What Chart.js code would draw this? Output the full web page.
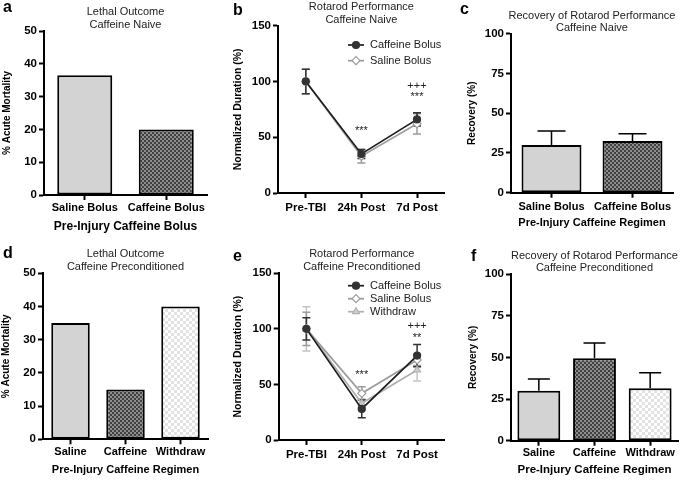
<!DOCTYPE html>
<html>
<head>
<meta charset="utf-8">
<script src="https://cdn.jsdelivr.net/npm/chart.js@4.4.1/dist/chart.umd.min.js"></script>
<style>
  html, body { margin: 0; padding: 0; background: #fff; }
  #fig { position: relative; width: 680px; height: 480px; }
  #fig canvas { position: absolute; }
</style>
</head>
<body>
<div id="fig">
  <canvas id="pa" width="220" height="240" style="left:0;top:0"></canvas>
  <canvas id="pb" width="230" height="240" style="left:220px;top:0"></canvas>
  <canvas id="pc" width="230" height="240" style="left:450px;top:0"></canvas>
  <canvas id="pd" width="220" height="240" style="left:0;top:240px"></canvas>
  <canvas id="pe" width="230" height="240" style="left:220px;top:240px"></canvas>
  <canvas id="pf" width="230" height="240" style="left:450px;top:240px"></canvas>
</div>
<script>
// ---- data ----
const naiveGroups = ['Saline Bolus', 'Caffeine Bolus'];
const naiveMortality = [36.5, 20];

const timepoints = ['Pre-TBI', '24h Post', '7d Post'];
const naiveCaffeineDur = [100, 35, 66];
const naiveCaffeineErr = [11, 4, 6];
const naiveSalineDur = [100, 33, 62];
const naiveSalineErr = [11, 6, 9];
const naiveNotes = [['24h Post', 56, '***'], ['7d Post', 96, '+++'], ['7d Post', 86, '***']];

const naiveRecovery = [30, 32.5];
const naiveRecoveryErr = [8.8, 4.5];

const precondGroups = ['Saline', 'Caffeine', 'Withdraw'];
const precondMortality = [35, 15, 40];

const precondCaffeineDur = [100, 28, 76];
const precondCaffeineErr = [10, 8, 10];
const precondSalineDur = [100, 42, 72];
const precondSalineErr = [15, 6, 5];
const precondWithdrawDur = [100, 33, 63];
const precondWithdrawErr = [20, 4, 10];
const precondNotes = [['24h Post', 58.5, '***'], ['7d Post', 102.5, '+++'], ['7d Post', 92, '**']];

const precondRecovery = [30, 49.4, 31.4];
const precondRecoveryErr = [7, 9.2, 9.4];

const FONT = '"Liberation Sans", Arial, Helvetica, sans-serif';
Chart.defaults.font.family = FONT;
Chart.defaults.color = '#000';

// fill patterns
function checker(size, c1, c2) {
  const p = document.createElement('canvas');
  p.width = p.height = size * 2;
  const g = p.getContext('2d');
  g.fillStyle = c1; g.fillRect(0, 0, size * 2, size * 2);
  g.fillStyle = c2; g.fillRect(0, 0, size, size); g.fillRect(size, size, size, size);
  return g.createPattern(p, 'repeat');
}
const salineFill = '#d3d3d3';
const caffeineFill = checker(2, '#8e8e8e', '#404040');
const withdrawFill = checker(3, '#ffffff', '#e2e2e2');

// error bars, drawn from dataset.errs
const errorBars = {
  id: 'errorBars',
  draw(chart) {
    const ctx = chart.ctx, ys = chart.scales.y;
    for (let d = chart.data.datasets.length - 1; d >= 0; d--) {
      const ds = chart.data.datasets[d];
      if (!ds.errs) continue;
      const meta = chart.getDatasetMeta(d);
      ctx.save();
      ctx.strokeStyle = ds.errColor || '#000';
      ctx.lineWidth = ds.errWidth || 1.5;
      meta.data.forEach((el, i) => {
        const v = ds.data[i], e = ds.errs[i];
        const top = ys.getPixelForValue(v + e);
        const bot = ys.getPixelForValue(ds.errUpOnly ? v : v - e);
        const x = el.x, w = ds.capHalf;
        ctx.beginPath();
        ctx.moveTo(x, top); ctx.lineTo(x, bot);
        ctx.moveTo(x - w, top); ctx.lineTo(x + w, top);
        if (!ds.errUpOnly) { ctx.moveTo(x - w, bot); ctx.lineTo(x + w, bot); }
        ctx.stroke();
      });
      ctx.restore();
    }
  },
  beforeDatasetsDraw(chart) { if (chart.config.type === 'line') this.draw(chart); },
  afterDatasetsDraw(chart) { if (chart.config.type === 'bar') this.draw(chart); }
};

// panel letter, two-line title, legend, significance marks
const panelDeco = {
  id: 'panelDeco',
  afterDraw(chart, args, o) {
    const ctx = chart.ctx, ca = chart.chartArea;
    ctx.save();
    ctx.fillStyle = '#000';
    ctx.font = 'bold 16px ' + FONT;
    ctx.textAlign = 'left';
    ctx.textBaseline = 'alphabetic';
    ctx.fillText(o.letter, o.letterX, o.letterY);

    ctx.font = '11px ' + FONT;
    ctx.fillStyle = '#222';
    ctx.textAlign = 'center';
    ctx.textBaseline = 'middle';
    const cx = (ca.left + ca.right) / 2;
    o.title.forEach((t, i) => ctx.fillText(t, cx, o.titleY + i * 12.7));

    if (o.legend) {
      ctx.font = '11px ' + FONT;
      ctx.textAlign = 'left';
      chart.data.datasets.forEach((ds, i) => {
        const y = o.legendY + i * o.legendGap;
        ctx.strokeStyle = ds.borderColor;
        ctx.lineWidth = ds.borderWidth;
        ctx.beginPath(); ctx.moveTo(o.legendX, y); ctx.lineTo(o.legendX + 16, y); ctx.stroke();
        ctx.fillStyle = ds.pointBackgroundColor;
        ctx.strokeStyle = ds.pointBorderColor;
        ctx.lineWidth = ds.pointBorderWidth;
        Chart.helpers.drawPoint(ctx, { pointStyle: ds.pointStyle, radius: ds.pointRadius, borderWidth: ds.pointBorderWidth, rotation: 0 }, o.legendX + 8, y);
        ctx.fillStyle = '#222';
        ctx.fillText(ds.label, o.legendX + 22, y);
      });
    }

    if (o.notes) {
      ctx.font = '11px ' + FONT;
      ctx.fillStyle = '#222';
      ctx.textAlign = 'center';
      ctx.textBaseline = 'middle';
      const xs = chart.scales.x, ys = chart.scales.y;
      o.notes.forEach(([cat, v, txt]) => {
        ctx.fillText(txt, xs.getPixelForValue(chart.data.labels.indexOf(cat)), ys.getPixelForValue(v));
      });
    }
    ctx.restore();
  }
};

function yAxis(p) {
  return {
    min: 0, max: p.max,
    ticks: { stepSize: p.step, font: { size: 11.5, weight: 'bold' }, color: '#000', padding: 2 },
    grid: { drawOnChartArea: false, tickLength: 5, tickWidth: 2, tickColor: '#000' },
    border: { color: '#000', width: 2 },
    title: { display: true, text: p.yTitle, color: '#000', font: { size: p.yTitleSize, weight: 'bold' }, padding: { top: p.yTitlePad, bottom: 0 } },
    afterFit: s => { s.width = p.left; }
  };
}

function xAxis(p) {
  return {
    offset: true,
    ticks: { font: { size: p.xTickSize, weight: 'bold' }, color: '#000', padding: p.xTickPad, maxRotation: 0, autoSkip: false },
    grid: { offset: false, drawOnChartArea: false, tickLength: 5, tickWidth: 2, tickColor: '#000' },
    border: { color: '#000', width: 2 },
    title: { display: !!p.xTitle, text: p.xTitle || '', color: '#000', font: { size: p.xTitleSize || 11, weight: 'bold' }, padding: { top: 0, bottom: p.xTitlePad || 0 } },
    afterFit: s => { s.height = 240 - p.bottom; }
  };
}

function baseOptions(p) {
  return {
    responsive: false,
    animation: false,
    layout: { padding: { top: p.top, right: p.padRight, left: 0, bottom: 0 } },
    scales: { x: xAxis(p), y: yAxis(p) },
    plugins: {
      legend: { display: false },
      tooltip: { enabled: false },
      panelDeco: p.deco
    }
  };
}

function barPanel(id, p) {
  return new Chart(document.getElementById(id), {
    type: 'bar',
    data: {
      labels: p.labels,
      datasets: [{
        data: p.values,
        errs: p.errs,
        errUpOnly: true,
        capHalf: p.capHalf,
        errColor: '#000',
        backgroundColor: p.fills,
        borderColor: '#000',
        borderWidth: 2,
        borderSkipped: false,
        barPercentage: p.barPct,
        categoryPercentage: 1
      }]
    },
    options: baseOptions(p),
    plugins: [errorBars, panelDeco]
  });
}

const seriesStyle = {
  'Caffeine Bolus': { borderColor: '#1e1e1e', pointStyle: 'circle', pointRadius: 3.5, pointBackgroundColor: '#333', pointBorderColor: '#333', errColor: '#333' },
  'Saline Bolus': { borderColor: '#9c9c9c', pointStyle: 'rectRot', pointRadius: 4, pointBackgroundColor: '#fff', pointBorderColor: '#9c9c9c', errColor: '#9c9c9c' },
  'Withdraw': { borderColor: '#b0b0b0', pointStyle: 'triangle', pointRadius: 4, pointBackgroundColor: '#cfcfcf', pointBorderColor: '#b0b0b0', errColor: '#c4c4c4' }
};

function linePanel(id, p) {
  const datasets = p.series.map(([label, vals, errs]) => Object.assign({
    label: label,
    data: vals,
    errs: errs,
    capHalf: 4,
    errWidth: 1.5,
    borderWidth: 1.7,
    pointBorderWidth: 1.2,
    tension: 0,
    fill: false
  }, seriesStyle[label]));
  return new Chart(document.getElementById(id), {
    type: 'line',
    data: { labels: timepoints, datasets: datasets },
    options: baseOptions(p),
    plugins: [errorBars, panelDeco]
  });
}

barPanel('pa', {
  labels: naiveGroups, values: naiveMortality, errs: null,
  fills: [salineFill, caffeineFill], barPct: 0.675, capHalf: 0,
  max: 50, step: 10, yTitle: '% Acute Mortality', yTitleSize: 10, yTitlePad: 1.7,
  xTitle: 'Pre-Injury Caffeine Bolus', xTitleSize: 12, xTitlePad: 5.8, xTickSize: 11, xTickPad: 1.4,
  top: 31, left: 44, padRight: 13, bottom: 195,
  deco: { letter: 'a', letterX: 3, letterY: 12, title: ['Lethal Outcome', 'Caffeine Naive'], titleY: 12.3 }
});

linePanel('pb', {
  series: [['Caffeine Bolus', naiveCaffeineDur, naiveCaffeineErr], ['Saline Bolus', naiveSalineDur, naiveSalineErr]],
  max: 150, step: 50, yTitle: 'Normalized Duration (%)', yTitleSize: 10.5, yTitlePad: 12.2,
  xTickSize: 11.5, xTickPad: 3,
  top: 25.7, left: 58, padRight: 3, bottom: 193,
  deco: { letter: 'b', letterX: 13, letterY: 15, title: ['Rotarod Performance', 'Caffeine Naive'], titleY: 7.3,
          legend: true, legendX: 128, legendY: 45, legendGap: 15.7, notes: naiveNotes }
});

barPanel('pc', {
  labels: naiveGroups, values: naiveRecovery, errs: naiveRecoveryErr,
  fills: [salineFill, caffeineFill], barPct: 0.74, capHalf: 14,
  max: 100, step: 25, yTitle: 'Recovery (%)', yTitleSize: 10, yTitlePad: 16.7,
  xTitle: 'Pre-Injury Caffeine Regimen', xTitleSize: 11, xTitlePad: 10.1, xTickSize: 11, xTickPad: 2.4,
  top: 33.7, left: 61, padRight: 7, bottom: 192.7,
  deco: { letter: 'c', letterX: 10, letterY: 13.5, title: ['Recovery of Rotarod Performance', 'Caffeine Naive'], titleY: 15.7 }
});

barPanel('pd', {
  labels: precondGroups, values: precondMortality, errs: null,
  fills: [salineFill, caffeineFill, withdrawFill], barPct: 0.7, capHalf: 0,
  max: 50, step: 10, yTitle: '% Acute Mortality', yTitleSize: 10, yTitlePad: 0.7,
  xTitle: 'Pre-Injury Caffeine Regimen', xTitleSize: 11, xTitlePad: 3.4, xTickSize: 11, xTickPad: 0.8,
  top: 33.3, left: 43, padRight: 12, bottom: 199.3,
  deco: { letter: 'd', letterX: 3, letterY: 18, title: ['Lethal Outcome', 'Caffeine Preconditioned'], titleY: 14 }
});

linePanel('pe', {
  series: [['Caffeine Bolus', precondCaffeineDur, precondCaffeineErr], ['Saline Bolus', precondSalineDur, precondSalineErr], ['Withdraw', precondWithdrawDur, precondWithdrawErr]],
  max: 150, step: 50, yTitle: 'Normalized Duration (%)', yTitleSize: 10.5, yTitlePad: 12.2,
  xTickSize: 11.5, xTickPad: 3.1,
  top: 33.3, left: 58.7, padRight: 3, bottom: 200,
  deco: { letter: 'e', letterX: 13, letterY: 21, title: ['Rotarod Performance', 'Caffeine Preconditioned'], titleY: 14,
          legend: true, legendX: 128, legendY: 45.7, legendGap: 13, notes: precondNotes }
});

barPanel('pf', {
  labels: precondGroups, values: precondRecovery, errs: precondRecoveryErr,
  fills: [salineFill, caffeineFill, withdrawFill], barPct: 0.77, capHalf: 11,
  max: 100, step: 25, yTitle: 'Recovery (%)', yTitleSize: 10, yTitlePad: 17.7,
  xTitle: 'Pre-Injury Caffeine Regimen', xTitleSize: 11.5, xTitlePad: 3.1, xTickSize: 11, xTickPad: 0.7,
  top: 34, left: 61, padRight: 2, bottom: 200.7,
  deco: { letter: 'f', letterX: 21, letterY: 21, title: ['Recovery of Rotarod Performance', 'Caffeine Preconditioned'], titleY: 15.7 }
});
</script>
</body>
</html>
